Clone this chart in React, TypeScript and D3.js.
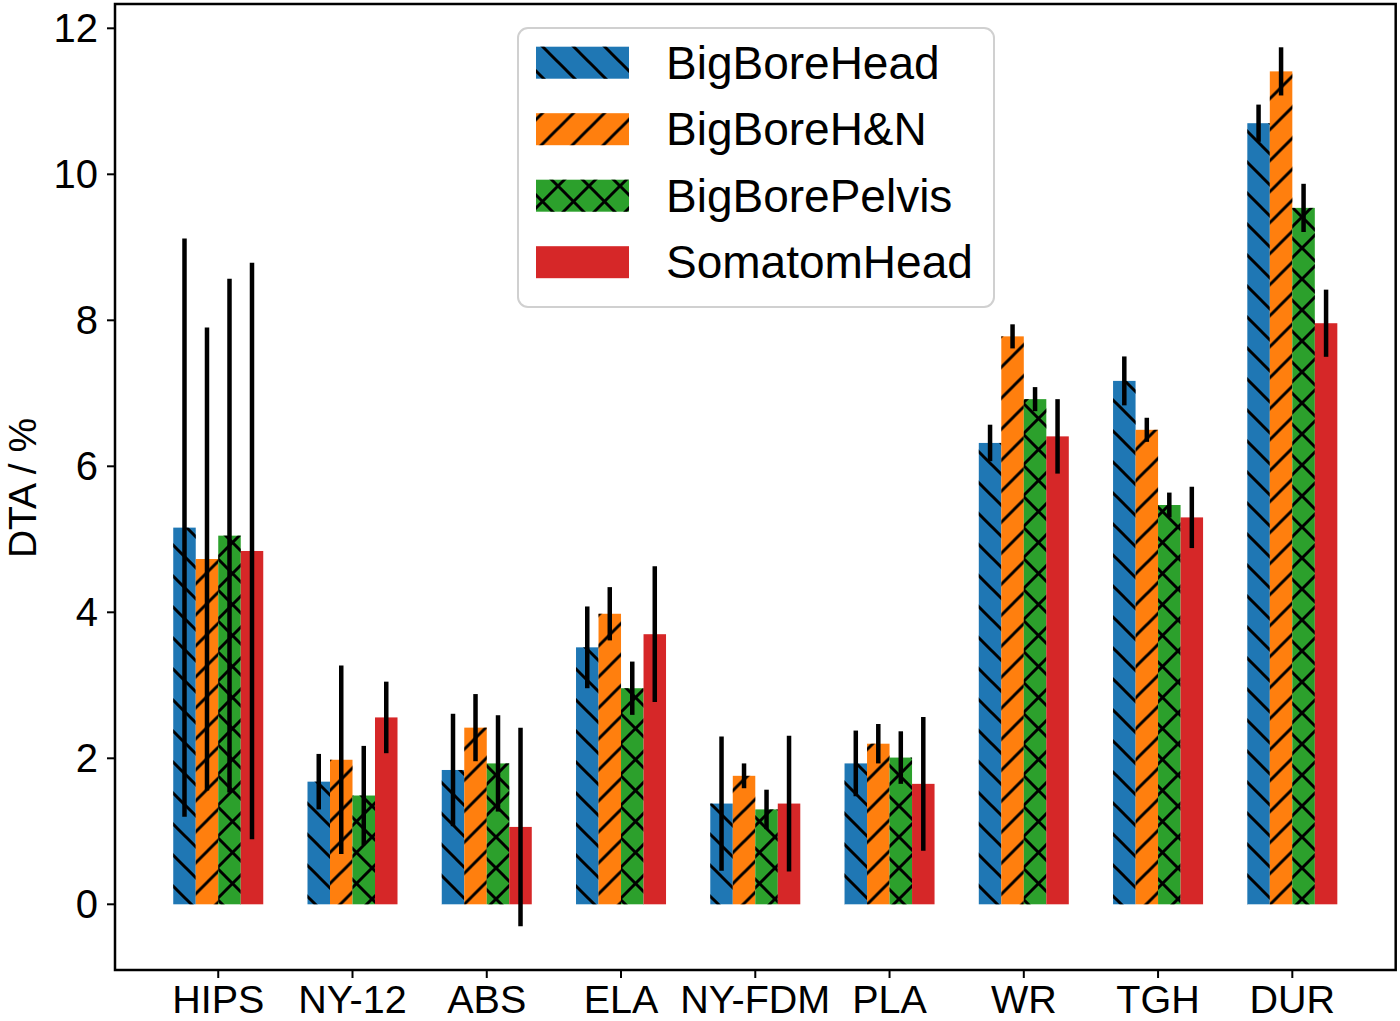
import React from "react";
import * as d3 from "d3";

const categories = ["HIPS", "NY-12", "ABS", "ELA", "NY-FDM", "PLA", "WR", "TGH", "DUR"];
const seriesNames = ["BigBoreHead", "BigBoreH&N", "BigBorePelvis", "SomatomHead"];
const seriesColors = ["#1f77b4", "#ff7f0e", "#2ca02c", "#d62728"];
const seriesHatch = ["back", "fwd", "cross", "none"];

const bigBoreHead = [5.16, 1.68, 1.84, 3.52, 1.38, 1.93, 6.32, 7.17, 10.7];
const bigBoreHN = [4.73, 1.98, 2.42, 3.98, 1.76, 2.2, 7.78, 6.5, 11.41];
const bigBorePelvis = [5.05, 1.49, 1.93, 2.96, 1.3, 2.01, 6.92, 5.47, 9.54];
const somatomHead = [4.84, 2.56, 1.06, 3.7, 1.38, 1.65, 6.41, 5.3, 7.96];

const errBigBoreHead = [3.96, 0.38, 0.77, 0.56, 0.92, 0.45, 0.25, 0.335, 0.255];
const errBigBoreHN = [3.17, 1.29, 0.46, 0.365, 0.17, 0.27, 0.165, 0.165, 0.33];
const errBigBorePelvis = [3.52, 0.68, 0.66, 0.365, 0.27, 0.36, 0.165, 0.17, 0.33];
const errSomatomHead = [3.95, 0.49, 1.36, 0.93, 0.93, 0.915, 0.51, 0.42, 0.46];

const yTicks = [0, 2, 4, 6, 8, 10, 12];

const values = [bigBoreHead, bigBoreHN, bigBorePelvis, somatomHead];
const errors = [errBigBoreHead, errBigBoreHN, errBigBorePelvis, errSomatomHead];

const W = 1400;
const H = 1021;
const L = 115;
const R = 1395.7;
const T = 4;
const B = 970;
const FONT = "'Liberation Sans', Arial, Helvetica, sans-serif";
const TILE = 31;

export default function App() {
  const x = d3.scaleLinear().domain([-0.769, 8.77]).range([L, R]);
  const y = d3.scaleLinear().domain([-0.9, 12.333]).range([B, T]);
  const bw = 0.1676;
  const bwPx = x(bw) - x(0);

  const hatchFill = (h: string) =>
    h === "back" ? "url(#hBack)" : h === "fwd" ? "url(#hFwd)" : h === "cross" ? "url(#hCross)" : "none";

  const backLines = (
    <>
      <line x1={-31} y1={0} x2={31} y2={62} />
      <line x1={-31} y1={-31} x2={62} y2={62} />
      <line x1={0} y1={-31} x2={62} y2={31} />
    </>
  );
  const fwdLines = (
    <>
      <line x1={-31} y1={31} x2={31} y2={-31} />
      <line x1={-31} y1={62} x2={62} y2={-31} />
      <line x1={0} y1={62} x2={62} y2={0} />
    </>
  );

  return (
    <svg
      width={W}
      height={H}
      style={{ position: "absolute", left: 0, top: 0, background: "#fff" }}
      fontFamily={FONT}
    >
      <defs>
        <pattern id="hBack" x={0} y={0} width={TILE} height={TILE} patternUnits="userSpaceOnUse">
          <g stroke="#000" strokeWidth={3}>{backLines}</g>
        </pattern>
        <pattern id="hFwd" x={0} y={4.5} width={TILE} height={TILE} patternUnits="userSpaceOnUse">
          <g stroke="#000" strokeWidth={3}>{fwdLines}</g>
        </pattern>
        <pattern id="hCross" x={0} y={0} width={TILE} height={TILE} patternUnits="userSpaceOnUse">
          <g stroke="#000" strokeWidth={3}>
            {backLines}
            {fwdLines}
          </g>
        </pattern>
      </defs>
      <rect x={0} y={0} width={W} height={H} fill="#fff" />

      {/* bars */}
      {values.map((vals, j) => (
        <g key={"s" + j}>
          {vals.map((v, i) => {
            const cx = x(i + (j - 1.5) * bw);
            const x0 = cx - bwPx / 2;
            const yTop = y(v);
            const h = y(0) - yTop;
            return (
              <g key={i}>
                <rect x={x0} y={yTop} width={bwPx} height={h} fill={seriesColors[j]} />
                {seriesHatch[j] !== "none" && (
                  <rect x={x0} y={yTop} width={bwPx} height={h} fill={hatchFill(seriesHatch[j])} />
                )}
              </g>
            );
          })}
        </g>
      ))}

      {/* error bars */}
      {values.map((vals, j) => (
        <g key={"e" + j} stroke="#000" strokeWidth={4.5}>
          {vals.map((v, i) => {
            const cx = x(i + (j - 1.5) * bw);
            const e = errors[j][i];
            return <line key={i} x1={cx} x2={cx} y1={y(v - e)} y2={y(v + e)} />;
          })}
        </g>
      ))}

      {/* axes frame */}
      <rect x={L} y={T} width={R - L} height={B - T} fill="none" stroke="#000" strokeWidth={2.5} />

      {/* y ticks */}
      {yTicks.map((t) => (
        <g key={"y" + t}>
          <line x1={L - 8} x2={L} y1={y(t)} y2={y(t)} stroke="#000" strokeWidth={2} />
          <text x={L - 17} y={y(t) + 14} fontSize={40} textAnchor="end" fill="#000">
            {t}
          </text>
        </g>
      ))}

      {/* x ticks */}
      {categories.map((c, i) => (
        <g key={"x" + c}>
          <line x1={x(i)} x2={x(i)} y1={B} y2={B + 8} stroke="#000" strokeWidth={2} />
          <text x={x(i)} y={1012.5} fontSize={39.5} textAnchor="middle" fill="#000">
            {c}
          </text>
        </g>
      ))}

      {/* y label */}
      <text transform="translate(36,488) rotate(-90)" fontSize={39} textAnchor="middle" fill="#000">
        DTA / %
      </text>

      {/* legend */}
      <rect x={518} y={28} width={476} height={279} rx={10} ry={10} fill="#fff" fillOpacity={0.8} stroke="#d0d0d0" strokeWidth={2} />
      {seriesNames.map((n, j) => {
        const cy = 62.7 + j * 66.5;
        return (
          <g key={"l" + n}>
            <rect x={536} y={cy - 16} width={93} height={32} fill={seriesColors[j]} />
            {seriesHatch[j] !== "none" && (
              <rect x={536} y={cy - 16} width={93} height={32} fill={hatchFill(seriesHatch[j])} />
            )}
            <text x={666} y={cy + 16} fontSize={46} fill="#000">
              {n}
            </text>
          </g>
        );
      })}
    </svg>
  );
}
